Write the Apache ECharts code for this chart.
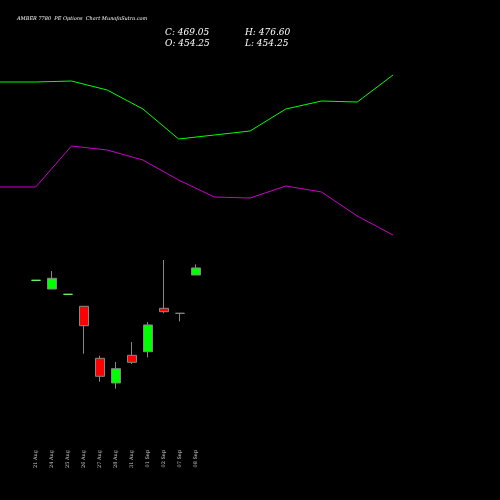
<!DOCTYPE html><html><head><meta charset="utf-8">
<script src="https://cdn.jsdelivr.net/npm/echarts@6/dist/echarts.min.js"></script>
<style>html,body{margin:0;background:#000}#c{width:500px;height:500px}</style></head><body><div id="c"></div>
<script>
const dates=['21 Aug','24 Aug','25 Aug','26 Aug','27 Aug','28 Aug','31 Aug','01 Sep','02 Sep','07 Sep','08 Sep'];
// [open, close, low, high]
const candles=[
[443.1,443.1,443.1,443.1],
[424.85,447.3,424.85,462.65],
[413.7,413.7,413.7,413.7],
[388.5,347.8,288.9,388.5],
[279.3,241.5,230.2,284.8],
[227.5,257.5,215.5,271.5],
[285.6,270.9,267.4,313.5],
[293.2,349.3,281.4,355.5],
[384.3,377.2,373.8,485.75],
[373.8,373.8,357.0,373.8],
[454.25,469.05,454.25,476.6]];
const upperBand=[82,82,81,90,109,139,135,131,109,101,102,75];
const lowerBand=[187,187,146,150,160,180,197,198,186,192,216,235];
const chart=echarts.init(document.getElementById('c'));
const serif='"DejaVu Serif","Liberation Serif",serif';
const cData=candles.map((c,i)=>(c[0]===c[1]&&c[2]===c[3])?{value:c,itemStyle:{borderColor:'#66ff66',borderColor0:'#66ff66',color:'#66ff66',color0:'#66ff66'}}:c);
chart.setOption({backgroundColor:'#000',animation:false,
title:[{text:'AMBER 7780  PE Options  Chart MunafaSutra.com',left:12,top:11,textStyle:{color:'#fff',fontSize:5,fontFamily:serif,fontStyle:'italic',fontWeight:'normal'}},
{text:'C: 469.05\nO: 454.25',left:160,top:22,textStyle:{color:'#fff',fontSize:9,fontFamily:serif,fontStyle:'italic',fontWeight:'normal',lineHeight:11}},
{text:'H: 476.60\nL: 454.25',left:240,top:22,textStyle:{color:'#fff',fontSize:9,fontFamily:serif,fontStyle:'italic',fontWeight:'normal',lineHeight:11}}],
grid:[{left:28,width:176,top:250,height:150},{left:0,width:393,top:0,height:500}],
xAxis:[{type:'category',data:dates,gridIndex:0,axisLine:{show:false},axisTick:{show:false},
 axisLabel:{color:'#ccc',fontSize:5,rotate:90,fontFamily:serif,margin:50,interval:0}},
 {type:'value',gridIndex:1,min:0,max:11,show:false}],
yAxis:[{type:'value',gridIndex:0,min:191.75,max:506.75,show:false},
 {type:'value',gridIndex:1,min:0,max:500,inverse:true,show:false}],
series:[{type:'candlestick',xAxisIndex:0,yAxisIndex:0,data:cData,barWidth:10,
 itemStyle:{color:'#00ff00',color0:'#ff0000',borderColor:'#888',borderColor0:'#888',borderWidth:1}},
{type:'line',xAxisIndex:1,yAxisIndex:1,data:upperBand.map((v,i)=>[i,v]),symbol:'none',lineStyle:{color:'#00ff00',width:1}},
{type:'line',xAxisIndex:1,yAxisIndex:1,data:lowerBand.map((v,i)=>[i,v]),symbol:'none',lineStyle:{color:'#cc00cc',width:1}}]});
</script></body></html>
